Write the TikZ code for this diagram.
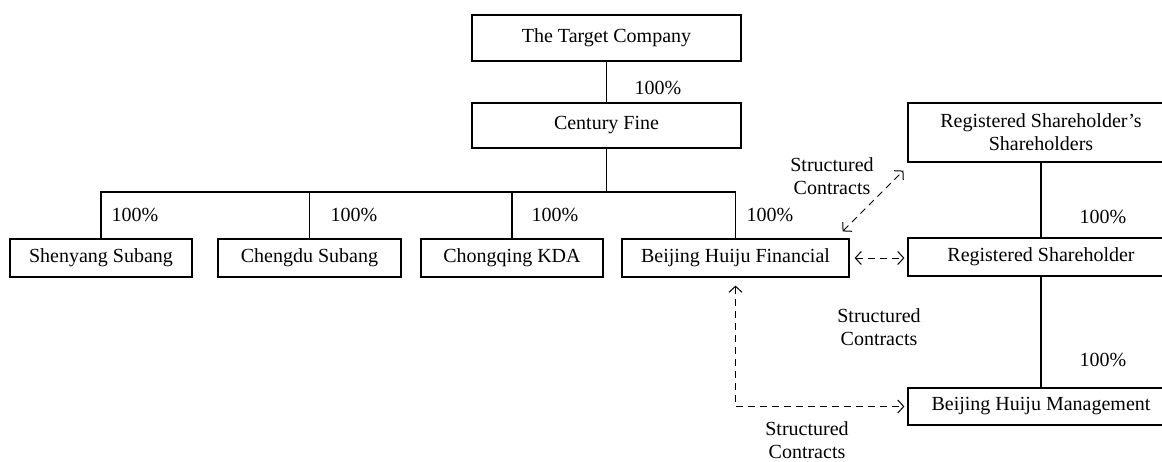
\documentclass[tikz,border=0pt]{standalone}
\usepackage{fontspec}
\setmainfont{Liberation Serif}
\usetikzlibrary{arrows.meta}
\tikzset{
  entity/.style={draw, line width=0.6pt, minimum height=19pt, inner sep=2pt, align=center, font=\fontsize{10}{11.5}\selectfont},
  pct/.style={font=\fontsize{10}{12}\selectfont},
  note/.style={align=center, font=\fontsize{10}{11.5}\selectfont},
  contract/.style={line width=0.5pt, dash pattern=on 3.5pt off 2.5pt, {Straight Barb[length=3pt,width=6.5pt]}-{Straight Barb[length=3pt,width=6.5pt]}},
}
\begin{document}
\begin{tikzpicture}[x=0.5pt, y=-0.5pt, line width=0.6pt]
        \useasboundingbox (0,0) rectangle (1162,461);
        % holding chain
        \node[entity, minimum width=134.5pt, minimum height=23pt] (target) at (606.5,38) {The Target Company};
        \node[entity, minimum width=134.5pt, minimum height=22.5pt] (century) at (606.5,125.5) {Century Fine};
        \node[entity, minimum width=91pt] (shenyang) at (101,258) {Shenyang Subang};
        \node[entity, minimum width=91.5pt] (chengdu) at (309.5,258) {Chengdu Subang};
        \node[entity, minimum width=91pt] (chongqing) at (512,258) {Chongqing KDA};
        \node[entity, minimum width=113.5pt] (financial) at (735.5,258) {Beijing Huiju Financial};
        % VIE side
        \node[entity, minimum width=133pt, minimum height=29.5pt] (rss) at (1041,132.5) {Registered Shareholder’s\\Shareholders};
        \node[entity, minimum width=133pt] (rs) at (1041,257) {Registered Shareholder};
        \node[entity, minimum width=133pt, minimum height=18.5pt] (mgmt) at (1041,406.5) {Beijing Huiju Management};
        % ownership lines
        \coordinate (bus) at (606.5,192);
        \draw (target) -- (century);
        \draw (century) -- (bus);
        \draw (shenyang.north) |- (bus -| financial.north) -- (financial.north);
        \draw (chengdu.north) -- (chengdu.north |- bus);
        \draw (chongqing.north) -- (chongqing.north |- bus);
        \draw (rss) -- (rs);
        \draw (rs) -- (mgmt);
        \node[pct] (p0) at (658,88) {100\%};
        \node[pct] (p1) at (135,215) {100\%};
        \node[pct] (p2) at (354,215) {100\%};
        \node[pct] (p3) at (555,215) {100\%};
        \node[pct] (p4) at (770,215) {100\%};
        \node[pct] (p5) at (1103,217) {100\%};
        \node[pct] (p6) at (1103,360) {100\%};
        % structured contracts
        \draw[contract] ([shift={(-7,-7)}]financial.north east) -- ([shift={(-4,8)}]rss.south west);
        \draw[contract, shorten <=2.5pt, shorten >=1.5pt] (financial.east) -- (financial.east -| rs.west);
        \draw[contract] ([yshift=-4pt]financial.south) |- ([xshift=-1.5pt]mgmt.west);
        \node[note] (sc1) at (832,176) {Structured\\Contracts};
        \node[note] (sc2) at (879,327) {Structured\\Contracts};
        \node[note] (sc3) at (807,440) {Structured\\Contracts};
\end{tikzpicture}
\end{document}
